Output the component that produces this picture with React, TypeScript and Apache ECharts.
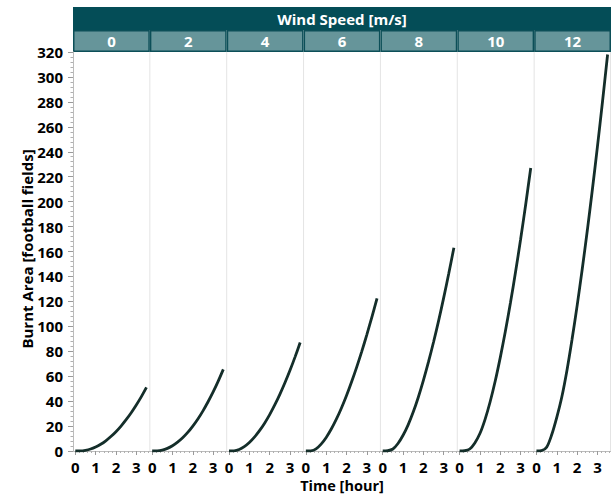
import React, { useEffect, useRef } from "react";
import * as echarts from "echarts";

const windSpeeds = ["0", "2", "4", "6", "8", "10", "12"];
const timeHours = [0, 0.25, 0.5, 0.75, 1, 1.25, 1.5, 1.75, 2, 2.25, 2.5, 2.75, 3, 3.25, 3.5];
const area0 = [0, 0.05, 0.6, 1.6, 3.2, 5.4, 8.2, 11.6, 15.5, 20, 25.1, 30.7, 36.9, 43.6, 51];
const area2 = [0, 0.06, 0.7, 2.1, 4.2, 7.1, 10.6, 14.9, 20, 25.7, 32.2, 39.5, 47.4, 56.1, 65.5];
const area4 = [0, 0.1, 1.2, 3.5, 6.8, 11.1, 16.3, 22.3, 29.2, 36.9, 45.4, 54.7, 64.7, 75.5, 87];
const area6 = [0, 0.15, 1.7, 5.5, 10.9, 17.6, 25.5, 34.5, 44.5, 55.5, 67.3, 79.9, 93.4, 107.6, 122.5];
const area8 = [0, 0.2, 1.6, 6, 12.6, 21, 31.2, 43.1, 56.6, 71.4, 87.4, 104.6, 123, 142.5, 163];
const area10 = [0, 0.2, 1.6, 6.5, 14, 25.2, 39.3, 55.9, 74.9, 95.8, 118.7, 143.3, 169.6, 197.5, 227];
const area12 = [0, 0.3, 3, 13, 27, 43.5, 64.6, 89.4, 116.4, 145.6, 176.6, 209.5, 244.1, 280.3, 318];
const areas = [area0, area2, area4, area6, area8, area10, area12];
const xTickValues = [0, 1, 2, 3];
const yMin = 0;
const yMax = 320;
const yInterval = 20;

const FONT = "'Open Sans', 'Noto Sans', sans-serif";

export default function App() {
  const ref = useRef<HTMLDivElement>(null);

  useEffect(() => {
    const chart = echarts.init(ref.current!, null, { renderer: "svg" });
    const plotLeft = 73;
    const plotRight = 611;
    const plotTop = 52;
    const plotBottom = 451;
    const n = windSpeeds.length;
    const facetW = (plotRight - plotLeft) / n;
    const offset = 2.3;
    const pxPerHour = 20.33;
    const xMax = (facetW - offset) / pxPerHour;
    const plotH = plotBottom - plotTop;

    const grids: any[] = [];
    const xAxes: any[] = [];
    const yAxes: any[] = [];
    const series: any[] = [];

    windSpeeds.forEach((w, i) => {
      grids.push({
        left: plotLeft + i * facetW + offset,
        top: plotTop,
        width: facetW - offset,
        height: plotH,
      });
      xAxes.push({
        type: "value",
        gridIndex: i,
        min: 0,
        max: xMax,
        interval: 1,
        axisLine: { show: false },
        axisTick: {
          show: true,
          customValues: xTickValues,
          length: 4,
          lineStyle: { color: "#9a9a9a" },
        },
        minorTick: { show: true, splitNumber: 5, length: 2, lineStyle: { color: "#b0b0b0" } },
        axisLabel: {
          customValues: xTickValues,
          margin: 8,
          color: "#000",
          fontFamily: FONT,
          fontWeight: "bold",
          fontSize: 15,
        },
        splitLine: { show: false },
      });
      yAxes.push({
        type: "value",
        gridIndex: i,
        min: yMin,
        max: yMax,
        interval: yInterval,
        show: false,
      });
      series.push({
        type: "line",
        name: w,
        xAxisIndex: i,
        yAxisIndex: i,
        data: timeHours.map((t, j) => [t, areas[i][j]]),
        showSymbol: false,
        smooth: 0.3,
        lineStyle: { color: "#142e2a", width: 2.8 },
        silent: true,
      });
    });

    grids.push({ left: plotLeft, top: plotTop, width: plotRight - plotLeft, height: plotH });
    xAxes.push({
      type: "value",
      gridIndex: n,
      min: 0,
      max: 1,
      axisLine: { show: true, lineStyle: { color: "#bcbcbc", width: 1 } },
      axisTick: { show: false },
      axisLabel: { show: false },
      splitLine: { show: false },
    });
    yAxes.push({
      type: "value",
      gridIndex: n,
      min: yMin,
      max: yMax,
      interval: yInterval,
      axisLine: { show: true, lineStyle: { color: "#bcbcbc", width: 1 } },
      axisTick: { show: true, length: 5, lineStyle: { color: "#9a9a9a" } },
      minorTick: { show: true, splitNumber: 5, length: 2.5, lineStyle: { color: "#b0b0b0" } },
      axisLabel: {
        margin: 10,
        color: "#000",
        fontFamily: FONT,
        fontWeight: "bold",
        fontSize: 15,
      },
      splitLine: { show: false },
    });

    const graphics: any[] = [];
    for (let i = 1; i <= n; i++) {
      const x = Math.min(plotLeft + i * facetW, plotRight - 0.5);
      graphics.push({
        type: "line",
        shape: { x1: x, y1: plotTop, x2: x, y2: plotBottom },
        style: { stroke: "#e4e4e4", lineWidth: 1 },
        silent: true,
      });
    }
    graphics.push({
      type: "rect",
      shape: { x: plotLeft, y: 7, width: plotRight - plotLeft, height: 23 },
      style: { fill: "#044d57" },
      silent: true,
    });
    graphics.push({
      type: "text",
      x: (plotLeft + plotRight) / 2,
      y: 18.5,
      style: {
        text: "Wind Speed [m/s]",
        fill: "#ffffff",
        font: `bold 15px ${FONT}`,
        textAlign: "center",
        textVerticalAlign: "middle",
        align: "center",
        verticalAlign: "middle",
      },
      silent: true,
    });
    windSpeeds.forEach((w, i) => {
      const x0 = plotLeft + i * facetW;
      graphics.push({
        type: "rect",
        shape: { x: x0 + 0.75, y: 30.75, width: facetW - 1.5, height: 20.5 },
        style: { fill: "#66959a", stroke: "#0c4f58", lineWidth: 1.5 },
        silent: true,
      });
      graphics.push({
        type: "text",
        x: x0 + facetW / 2,
        y: 41,
        style: {
          text: w,
          fill: "#ffffff",
          font: `bold 15px ${FONT}`,
          textAlign: "center",
          textVerticalAlign: "middle",
          align: "center",
          verticalAlign: "middle",
        },
        silent: true,
      });
    });
    graphics.push({
      type: "text",
      x: 27,
      y: 249,
      rotation: Math.PI / 2,
      style: {
        text: "Burnt Area [football fields]",
        fill: "#000",
        font: `bold 15px ${FONT}`,
        textAlign: "center",
        textVerticalAlign: "middle",
        align: "center",
        verticalAlign: "middle",
      },
      silent: true,
    });
    graphics.push({
      type: "text",
      x: (plotLeft + plotRight) / 2,
      y: 485,
      style: {
        text: "Time [hour]",
        fill: "#000",
        font: `bold 14.5px ${FONT}`,
        textAlign: "center",
        textVerticalAlign: "middle",
        align: "center",
        verticalAlign: "middle",
      },
      silent: true,
    });

    chart.setOption({
      animation: false,
      backgroundColor: "#ffffff",
      grid: grids,
      xAxis: xAxes,
      yAxis: yAxes,
      series,
      graphic: { elements: graphics },
    });
    return () => chart.dispose();
  }, []);

  return (
    <div
      ref={ref}
      style={{ position: "fixed", left: 0, top: 0, width: 611, height: 495, background: "#fff" }}
    />
  );
}
